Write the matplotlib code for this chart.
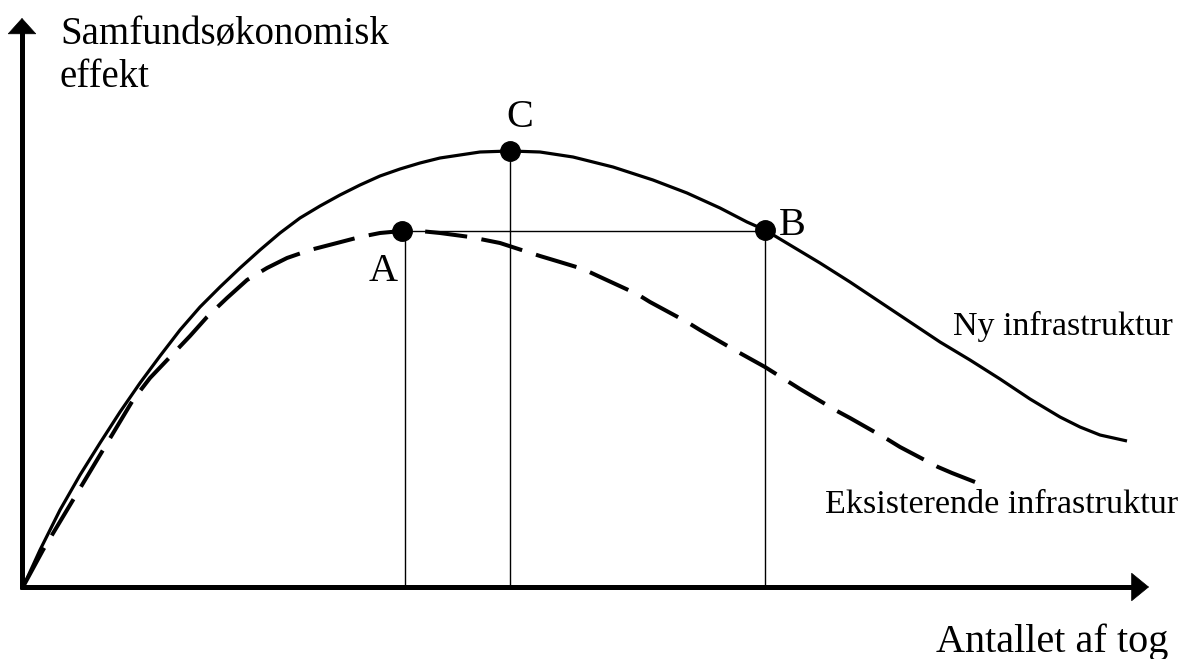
import numpy as np
import matplotlib.pyplot as plt

plt.rcParams['font.family'] = ['Liberation Serif', 'DejaVu Serif']

# Kurver (x = antal tog, y = samfundsøkonomisk effekt, vilkårlige enheder)
ny_x = [2, 18, 38, 58, 78, 98, 118, 138, 158, 178, 198, 218, 238, 258, 278,
        298, 318, 338, 358, 378, 398, 418, 438, 458, 488, 518, 551, 591, 631,
        665, 698, 725, 743, 768, 798, 828, 858, 888, 918, 948, 978, 1008,
        1038, 1058, 1078, 1105]
ny_y = [2, 37, 77, 112, 144, 175, 204, 231, 257, 280, 300, 319, 337, 354, 369,
        381, 392, 402, 411, 418, 424, 429, 432, 435, 436, 435, 430, 420, 407,
        394, 379, 365, 357, 342, 324, 305, 285, 265, 245, 227, 208, 188,
        170, 160, 152, 146]

eks_x = [2, 21, 36, 51, 66, 81, 96, 111, 128, 148, 168, 185, 205, 225, 245,
         265, 288, 315, 338, 358, 380, 398, 418, 448, 478, 518, 538, 561, 576,
         615, 628, 665, 678, 716, 743, 778, 815, 828, 865, 878, 916, 930, 953]
eks_y = [2, 37, 62, 87, 112, 137, 162, 187, 209, 230, 251, 270, 289, 307, 319,
         329, 337, 344, 350, 354, 356, 356, 354, 350, 344, 331, 325, 318, 311,
         293, 285, 265, 257, 235, 220, 198, 176, 169, 148, 140, 120, 114, 105]

# Punkter A, B, C
punkt_navn = ['A', 'C', 'B']
punkt_x = [380, 488, 743]
punkt_y = [356, 436, 357]

fig = plt.figure(figsize=(11.83, 6.59), dpi=100)
ax = fig.add_axes([0, 0, 1, 1])
ax.set_xlim(-22, 1161)
ax.set_ylim(-72, 587)
ax.axis('off')

# Akser med pile
ax.plot([-2, 1115], [0, 0], color='black', lw=3.6, solid_capstyle='butt')
ax.plot([0, 0], [-2, 558], color='black', lw=3.6, solid_capstyle='butt')
ax.annotate('', xy=(1127, 0), xytext=(1105, 0),
            arrowprops=dict(arrowstyle='-|>,head_length=0.55,head_width=0.45',
                            lw=0.5, color='black', mutation_scale=22,
                            shrinkA=0, shrinkB=0))
ax.annotate('', xy=(0, 569), xytext=(0, 548),
            arrowprops=dict(arrowstyle='-|>,head_length=0.5,head_width=0.45',
                            lw=0.5, color='black', mutation_scale=22,
                            shrinkA=0, shrinkB=0))

# Hjælpelinjer
ax.plot([punkt_x[0], punkt_x[2]], [punkt_y[0] + 0.5, punkt_y[0] + 0.5], color='black', lw=1)
for px, py in zip(punkt_x, punkt_y):
    ax.plot([px + (3 if px == punkt_x[0] else 0)] * 2, [0, py], color='black', lw=1)

ax.plot(ny_x, ny_y, color='black', lw=2.3, solid_capstyle='butt', solid_joinstyle='round')
ax.plot(eks_x, eks_y, color='black', lw=2.9, dashes=(10.5, 3.6))

ax.plot(punkt_x, punkt_y, 'o', color='black', markersize=14)

# Tekster
ax.text(38, 587 - 45, 'Samfundsøkonomisk', fontsize=28, va='baseline', ha='left')
ax.text(38, 587 - 87, 'effekt', fontsize=28, va='baseline', ha='left')
ax.text(1146, 587 - 652, 'Antallet af tog', fontsize=29, va='baseline', ha='right')
ax.text(1151, 587 - 335, 'Ny infrastruktur', fontsize=24.5, va='baseline', ha='right')
ax.text(1156, 587 - 513, 'Eksisterende infrastruktur', fontsize=24.6, va='baseline', ha='right')
ax.text(361, 587 - 281, 'A', fontsize=29, va='baseline', ha='center')
ax.text(498, 587 - 127, 'C', fontsize=29, va='baseline', ha='center')
ax.text(770, 587 - 235, 'B', fontsize=29, va='baseline', ha='center')

fig.savefig('out.png', dpi=100)
